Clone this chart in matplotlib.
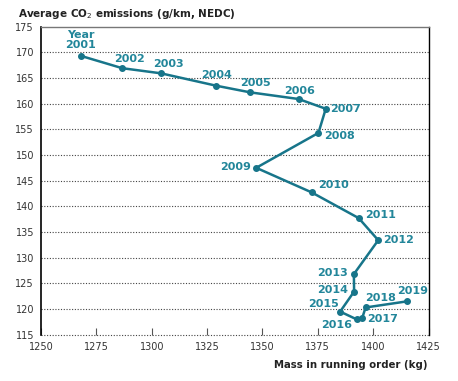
import matplotlib
matplotlib.use('Agg')
import matplotlib.pyplot as plt

years = [2001, 2002, 2003, 2004, 2005, 2006, 2007, 2008, 2009, 2010,
         2011, 2012, 2013, 2014, 2015, 2016, 2017, 2018, 2019]
mass = [1268, 1286.7, 1304.2, 1329, 1344.4, 1366.3, 1378.6, 1375.3, 1347.2, 1372.3,
        1393.5, 1402.3, 1391.3, 1391.4, 1385.1, 1392.5, 1395.1, 1396.6, 1415.4]
co2 = [169.3, 166.9, 165.9, 163.5, 162.2, 160.9, 159.0, 154.3, 147.5, 142.7,
       137.7, 133.4, 126.8, 123.4, 119.5, 118.0, 118.3, 120.3, 121.5]

x_ticks = [1250, 1275, 1300, 1325, 1350, 1375, 1400, 1425]
y_ticks = [115, 120, 125, 130, 135, 140, 145, 150, 155, 160, 165, 170, 175]

# label placement: (dx px, dy px, ha, va)
label_pos = [(0, 6, 'center', 'bottom'), (7, 4, 'center', 'bottom'), (7, 4, 'center', 'bottom'),
             (1, 6, 'center', 'bottom'), (5, 4, 'center', 'bottom'), (1, 3, 'center', 'bottom'),
             (4, 0, 'left', 'center'), (6, -3, 'left', 'center'), (-5, 1, 'right', 'center'),
             (6, 7, 'left', 'center'), (6, 3, 'left', 'center'), (5, 0, 'left', 'center'),
             (-6, 1, 'right', 'center'), (-6, 2, 'right', 'center'), (-1, 8, 'right', 'center'),
             (-4, -6, 'right', 'center'), (5, -1, 'left', 'center'), (0, 4, 'left', 'bottom'),
             (5, 5, 'center', 'bottom')]

line_col = '#17758a'
lab_col = '#22869a'
txt = '#333333'

fig = plt.figure(figsize=(4.58, 3.81), dpi=100)
ax = fig.add_axes([41 / 458, 1 - 334.7 / 381, (428.5 - 41) / 458, (334.7 - 26.6) / 381])

ax.plot(mass, co2, color=line_col, lw=1.8, marker='o', ms=4, zorder=3)

for i, yr in enumerate(years):
    dx, dy, ha, va = label_pos[i]
    lab = 'Year\n2001' if i == 0 else str(yr)
    ax.annotate(lab, (mass[i], co2[i]), xytext=(dx, dy), textcoords='offset pixels',
                ha=ha, va=va, color=lab_col, fontsize=8, fontweight='bold',
                linespacing=1.0, zorder=4)

ax.set_xlim(1250, 1425)
ax.set_ylim(115, 175)
ax.set_xticks(x_ticks)
ax.set_yticks(y_ticks)
ax.tick_params(axis='y', length=0, labelsize=7, colors=txt, pad=5)
ax.tick_params(axis='x', direction='in', length=5, width=0.8, labelsize=7,
               colors='#555555', labelcolor=txt, pad=5)

for yv in y_ticks[:-1]:
    ax.axhline(yv, color='#444444', lw=0.8, ls=(0, (1, 1.5)), zorder=1, clip_on=False)

ax.spines['bottom'].set_visible(False)
ax.spines['left'].set_color('black')
ax.spines['left'].set_linewidth(1.2)
ax.spines['right'].set_color('black')
ax.spines['right'].set_linewidth(1.0)
ax.spines['top'].set_color('#777777')
ax.spines['top'].set_linewidth(1.0)

fig.text(18 / 458, 1 - 14 / 381, 'Average CO$_2$ emissions (g/km, NEDC)',
         fontsize=7.5, fontweight='bold', color='#222222', ha='left', va='center')
fig.text(428 / 458, 1 - 365 / 381, 'Mass in running order (kg)',
         fontsize=7.3, fontweight='bold', color='#222222', ha='right', va='center')

fig.savefig('out.png', dpi=100)
